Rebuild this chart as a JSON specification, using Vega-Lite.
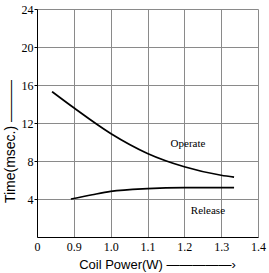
{
  "$schema": "https://vega.github.io/schema/vega-lite/v6.json",
  "width": 221,
  "height": 228,
  "autosize": "none",
  "padding": {"left": 37, "top": 9, "right": 11, "bottom": 36},
  "background": "white",
  "config": {"view": {"stroke": null}},
  "encoding": {
    "x": {
      "field": "power", "type": "quantitative",
      "scale": {"domain": [0.8, 1.4], "nice": false, "zero": false},
      "axis": {
        "values": [0.8, 0.9, 1.0, 1.1, 1.2, 1.3, 1.4],
        "labelExpr": "datum.value < 0.85 ? '0' : format(datum.value, '.1f')",
        "labelOverlap": false, "labelBound": false, "labelFlush": false,
        "grid": true, "gridColor": "#8a8a8a", "gridWidth": 1, "gridOpacity": 1,
        "domainColor": "black", "domainWidth": 1,
        "ticks": false,
        "labelFont": "Liberation Serif", "labelFontSize": 12, "labelColor": "black", "labelPadding": 4,
        "title": "Coil Power(W)  —————›",
        "titleFont": "Liberation Sans", "titleFontSize": 13, "titleFontWeight": "normal", "titleColor": "black",
        "titleX": 120, "titlePadding": 6
      }
    },
    "y": {
      "field": "time", "type": "quantitative",
      "scale": {"domain": [0, 24], "nice": false},
      "axis": {
        "values": [4, 8, 12, 16, 20, 24],
        "labelOverlap": false,
        "grid": true, "gridColor": "#8a8a8a", "gridWidth": 1, "gridOpacity": 1,
        "domainColor": "black", "domainWidth": 1,
        "ticks": true, "tickSize": 3, "tickColor": "black",
        "labelFont": "Liberation Serif", "labelFontSize": 12, "labelColor": "black", "labelPadding": 1,
        "title": "Time(msec.)   ———",
        "titleFont": "Liberation Sans", "titleFontSize": 14, "titleFontWeight": "normal", "titleColor": "black",
        "titleY": 132, "titlePadding": 4
      }
    }
  },
  "layer": [
    {
      "data": {"values": [
        {"series": "Operate", "power": 0.841, "time": 15.3},
        {"series": "Operate", "power": 0.9, "time": 13.6},
        {"series": "Operate", "power": 1.0, "time": 10.9},
        {"series": "Operate", "power": 1.1, "time": 8.8},
        {"series": "Operate", "power": 1.2, "time": 7.4},
        {"series": "Operate", "power": 1.3, "time": 6.5},
        {"series": "Operate", "power": 1.335, "time": 6.3},
        {"series": "Release", "power": 0.892, "time": 4.0},
        {"series": "Release", "power": 0.95, "time": 4.45},
        {"series": "Release", "power": 1.0, "time": 4.8},
        {"series": "Release", "power": 1.1, "time": 5.1},
        {"series": "Release", "power": 1.2, "time": 5.2},
        {"series": "Release", "power": 1.3, "time": 5.2},
        {"series": "Release", "power": 1.335, "time": 5.2}
      ]},
      "mark": {"type": "line", "color": "black", "strokeWidth": 1.7, "interpolate": "monotone"},
      "encoding": {"detail": {"field": "series"}}
    },
    {
      "data": {"values": [
        {"label": "Operate", "power": 1.21, "time": 9.8},
        {"label": "Release", "power": 1.264, "time": 2.7}
      ]},
      "mark": {"type": "text", "font": "Liberation Serif", "fontSize": 11, "color": "black"},
      "encoding": {"text": {"field": "label"}}
    }
  ]
}
